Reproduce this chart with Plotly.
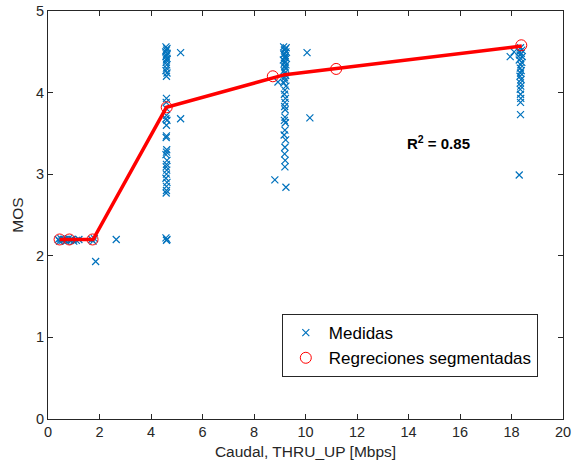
import plotly.graph_objects as go

# Measured points (Medidas)
low_x = [0.40, 0.45, 0.50, 0.55, 0.60, 0.65, 0.70, 0.80, 0.85, 0.90, 0.95, 1.00, 1.10, 1.20, 1.70, 1.75, 1.80, 1.85, 2.65]
low_y = [2.20, 2.18, 2.21, 2.19, 2.20, 2.20, 2.18, 2.21, 2.19, 2.20, 2.20, 2.18, 2.19, 2.20, 2.20, 2.18, 2.21, 1.93, 2.20]

c1_x = [4.58, 4.62, 4.60, 4.57, 4.63, 4.60, 4.58, 4.62, 4.60, 4.59, 4.61, 4.60, 4.58, 4.62, 4.60,
        4.60, 4.59, 4.61, 4.60, 4.58, 4.62, 4.60, 4.60, 4.59, 4.61, 4.60, 4.58, 4.62, 4.60, 4.59,
        4.61, 4.60, 4.58, 4.62, 4.60, 4.60, 4.59, 4.58, 4.62, 4.60, 5.15, 5.15]
c1_y = [4.56, 4.54, 4.52, 4.50, 4.48, 4.46, 4.44, 4.42, 4.40, 4.37, 4.34, 4.30, 4.27, 4.24, 4.20,
        3.93, 3.88, 3.80, 3.72, 3.68, 3.66, 3.60, 3.47, 3.45, 3.30, 3.27, 3.24, 3.17, 3.12, 3.09,
        3.05, 3.00, 2.95, 2.90, 2.85, 2.80, 2.77, 2.22, 2.20, 2.19, 4.49, 3.68]

c2_x = [9.15, 9.25, 9.20, 9.18, 9.24, 9.20, 9.16, 9.22, 9.20, 9.26, 9.14, 9.20, 9.18, 9.24, 9.20,
        9.22, 9.17, 9.20, 9.23, 9.19, 9.20, 9.16, 9.24, 9.20, 9.18, 9.22, 9.20, 9.19, 9.21, 9.20,
        9.18, 9.22, 9.20, 9.17, 9.23, 9.20, 9.19, 9.21, 9.20, 8.93, 8.81, 9.24, 10.06, 10.17]
c2_y = [4.56, 4.55, 4.53, 4.52, 4.50, 4.48, 4.47, 4.45, 4.43, 4.42, 4.40, 4.38, 4.36, 4.34, 4.32,
        4.30, 4.27, 4.24, 4.21, 4.18, 4.15, 4.12, 4.08, 4.03, 3.98, 3.93, 3.88, 3.83, 3.79, 3.70,
        3.66, 3.63, 3.54, 3.48, 3.42, 3.33, 3.25, 3.17, 3.09, 4.13, 2.93, 2.84, 4.49, 3.69]

c3_x = [18.35, 18.40, 18.30, 18.38, 18.33, 18.42, 18.35, 18.30, 18.40, 18.36, 18.34, 18.38, 18.35,
        18.33, 18.37, 18.35, 18.36, 18.34, 18.35, 18.36, 18.35, 17.95, 18.10, 18.35, 18.30]
c3_y = [4.55, 4.52, 4.50, 4.48, 4.46, 4.44, 4.42, 4.40, 4.37, 4.34, 4.30, 4.27, 4.24, 4.20,
        4.16, 4.12, 4.08, 4.04, 3.98, 3.93, 3.88, 4.44, 4.50, 3.73, 2.99]

meas_x = low_x + c1_x + c2_x + c3_x
meas_y = low_y + c1_y + c2_y + c3_y

# Segmented regression
reg_x = [0.45, 0.83, 1.73, 4.61, 8.73, 11.19, 18.38]
reg_y = [2.20, 2.20, 2.20, 3.82, 4.20, 4.29, 4.58]
line_x = [0.45, 1.75, 4.60, 9.20, 18.40]
line_y = [2.20, 2.20, 3.82, 4.22, 4.57]

r2_text = "<b>R<sup>2</sup> = 0.85</b>"

fig = go.Figure()
fig.add_trace(go.Scatter(x=meas_x, y=meas_y, mode="markers", name="Medidas",
                         marker=dict(symbol="x-thin", size=7, line=dict(color="#0072BD", width=1.2),
                                     color="#0072BD")))
fig.add_trace(go.Scatter(x=line_x, y=line_y, mode="lines", showlegend=False,
                         line=dict(color="#FF0000", width=3.5)))
fig.add_trace(go.Scatter(x=reg_x, y=reg_y, mode="markers", name="Regreciones segmentadas",
                         marker=dict(symbol="circle-open", size=11, color="#FF0000",
                                     line=dict(color="#FF0000", width=1))))

fig.add_annotation(x=15.15, y=3.39, text=r2_text, showarrow=False,
                   font=dict(size=15, color="#000000", family="Liberation Sans"))

axis_common = dict(showline=True, linecolor="#262626", linewidth=1, mirror="ticks",
                   ticks="inside", ticklen=5, tickcolor="#262626", showgrid=False, zeroline=False,
                   automargin=False,
                   tickfont=dict(size=14.5, color="#262626", family="Liberation Sans"))

fig.update_layout(
    width=573, height=473,
    margin=dict(l=48, r=10, t=11, b=54),
    paper_bgcolor="white", plot_bgcolor="white",
    font=dict(family="Liberation Sans", color="#262626"),
    xaxis=dict(range=[0, 20], dtick=2, tick0=0,
               title=dict(text="Caudal, THRU_UP [Mbps]", font=dict(size=15.5, color="#262626"), standoff=6),
               **axis_common),
    yaxis=dict(range=[0, 5], dtick=1, tick0=0,
               title=dict(text="MOS", font=dict(size=15.5, color="#262626"), standoff=8),
               **axis_common),
    legend=dict(x=0.454, y=0.257, xanchor="left", yanchor="top",
                bordercolor="#262626", borderwidth=1, bgcolor="white",
                font=dict(size=17, color="#000000", family="Liberation Sans"),
                tracegroupgap=0, itemwidth=36),
    showlegend=True,
)

fig.write_html("out.html")
